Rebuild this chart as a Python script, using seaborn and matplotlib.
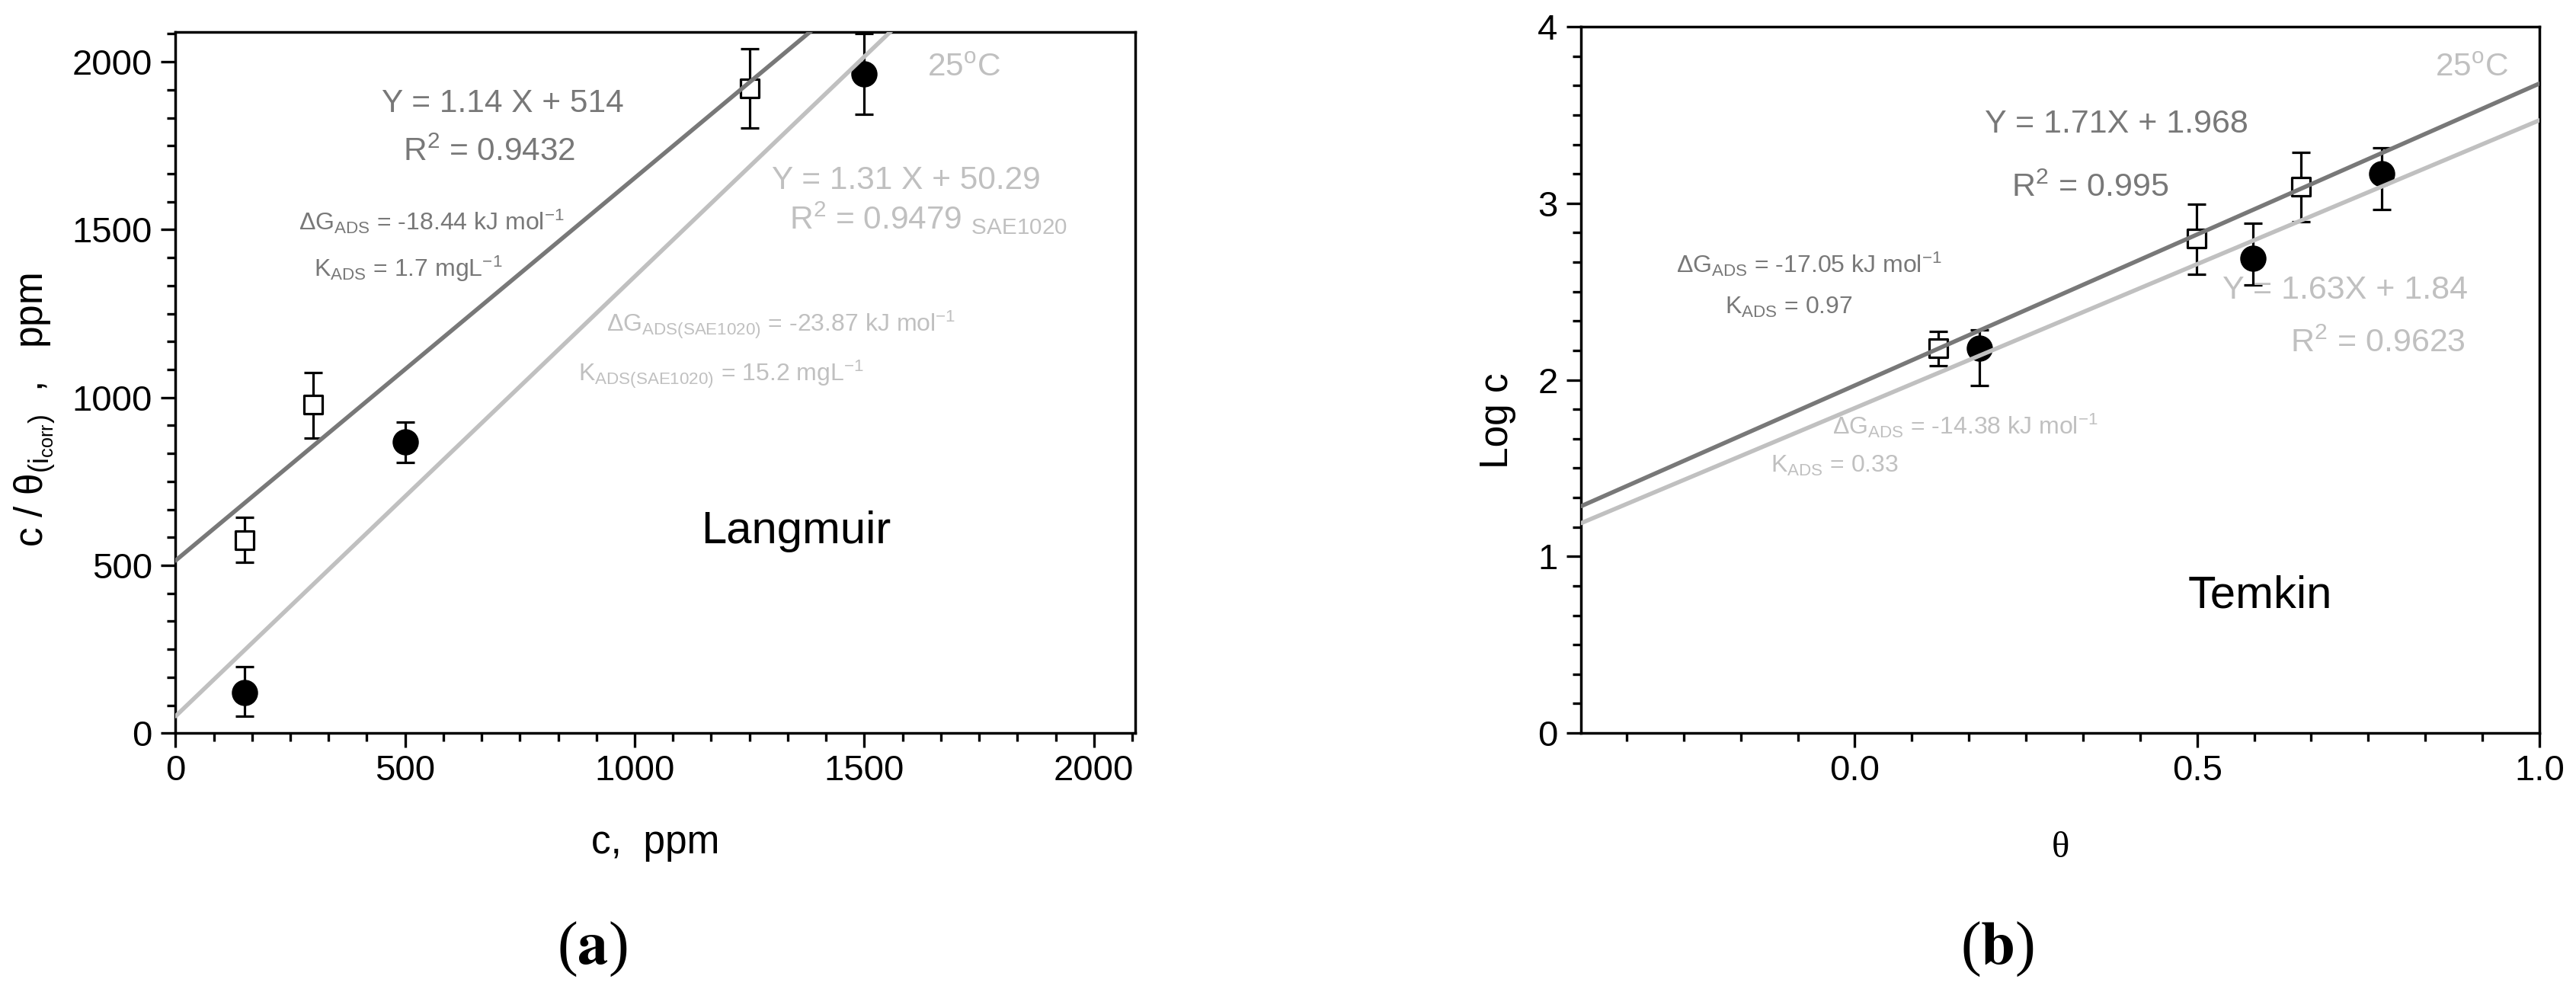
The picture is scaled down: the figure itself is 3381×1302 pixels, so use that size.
import numpy as np
import pandas as pd
import matplotlib
matplotlib.use('Agg')
import matplotlib.pyplot as plt
import seaborn as sns
from matplotlib.ticker import MultipleLocator

# ---------------- data : panel (a) Langmuir ----------------
lang_sq_c = [150, 300, 1250]
lang_sq_y = [575, 980, 1920]
lang_sq_lo = [508, 880, 1803]
lang_sq_hi = [642, 1075, 2039]
lang_ci_c = [150, 500, 1500]
lang_ci_y = [120, 867, 1965]
lang_ci_lo = [51, 807, 1844]
lang_ci_hi = [199, 926, 2085]
lang_fit_dark = (1.14, 514.0)
lang_fit_light = (1.31, 50.29)
lang_xticks = [0, 500, 1000, 1500, 2000]
lang_yticks = [0, 500, 1000, 1500, 2000]

# ---------------- data : panel (b) Temkin ----------------
temk_sq_t = [0.122, 0.499, 0.652]
temk_sq_y = [2.178, 2.800, 3.096]
temk_sq_lo = [2.079, 2.596, 2.894]
temk_sq_hi = [2.273, 2.995, 3.290]
temk_ci_t = [0.182, 0.582, 0.770]
temk_ci_y = [2.178, 2.689, 3.168]
temk_ci_lo = [1.967, 2.539, 2.966]
temk_ci_hi = [2.284, 2.888, 3.313]
temk_fit_dark = (1.71, 1.968)
temk_fit_light = (1.63, 1.84)
temk_xticks = [0.0, 0.5, 1.0]
temk_yticks = [0, 1, 2, 3, 4]

DARK = '#787878'
LIGHT = '#c0c0c0'

sns.set_theme(style='ticks')
plt.rcParams['font.family'] = ['Liberation Sans', 'DejaVu Sans']
plt.rcParams['mathtext.fontset'] = 'custom'
plt.rcParams['mathtext.rm'] = 'Liberation Sans'
plt.rcParams['mathtext.it'] = 'Liberation Sans'
plt.rcParams['mathtext.bf'] = 'Liberation Sans:bold'
plt.rcParams['axes.unicode_minus'] = False

W, H = 3381, 1302
fig = plt.figure(figsize=(W / 100, H / 100), dpi=100)
fig.patch.set_facecolor('white')


def px_axes(x0, x1, ytop, ybot):
    return fig.add_axes([x0 / W, 1 - ybot / H, (x1 - x0) / W, (ybot - ytop) / H])


axA = px_axes(230.3, 1490, 41.5, 962.3)
axB = px_axes(2075, 3333, 35, 962)


def style_axes(ax, major_x, major_y, xlim, ylim, xticks, yticks, xfmt):
    ax.set_facecolor('white')
    ax.set_xlim(*xlim)
    ax.set_ylim(*ylim)
    ax.set_xticks(xticks)
    ax.set_yticks(yticks)
    ax.set_xticklabels([xfmt(v) for v in xticks])
    ax.set_yticklabels([str(v) for v in yticks])
    ax.xaxis.set_minor_locator(MultipleLocator(major_x / 6))
    ax.yaxis.set_minor_locator(MultipleLocator(major_y / 6))
    for s in ax.spines.values():
        s.set_visible(True)
        s.set_linewidth(2.5)
        s.set_color('black')
    ax.tick_params(which='major', direction='out', length=14, width=2.4,
                   labelsize=34, pad=6, top=False, right=False, colors='black')
    ax.tick_params(which='minor', direction='out', length=8, width=2.4,
                   top=False, right=False, colors='black')
    ax.tick_params(axis='y', which='major', pad=8)
    ax.grid(False)


def draw_series(ax, xs, ys, lo, hi, marker, face, ms, xline, fit, lcolor):
    ys = np.asarray(ys, float)
    yerr = [ys - np.asarray(lo, float), np.asarray(hi, float) - ys]
    ax.errorbar(xs, ys, yerr=yerr, fmt='none', ecolor='black', elinewidth=2.3,
                capsize=8.5, capthick=2.3, zorder=3)
    sns.scatterplot(x=xs, y=ys, ax=ax, marker=marker, s=ms ** 2, color=face,
                    edgecolor='black', linewidth=2.3, zorder=4, legend=False)
    xl = np.asarray(xline, float)
    sns.lineplot(x=xl, y=fit[0] * xl + fit[1], ax=ax, color=lcolor, lw=4.0,
                 zorder=5, legend=False)


# ---------------- panel (a) ----------------
style_axes(axA, 500, 500, (0, 2090), (0, 2090), lang_xticks, lang_yticks,
           lambda v: str(v))
draw_series(axA, lang_sq_c, lang_sq_y, lang_sq_lo, lang_sq_hi, 's', 'white', 17,
            [0, 2090], lang_fit_dark, DARK)
draw_series(axA, lang_ci_c, lang_ci_y, lang_ci_lo, lang_ci_hi, 'o', 'black', 22.5,
            [0, 2090], lang_fit_light, LIGHT)


def ptext(ax, x0, x1, ytop, ybot, px, py, s, **kw):
    ax.text((px - x0) / (x1 - x0), (ybot - py) / (ybot - ytop), s,
            transform=ax.transAxes, ha='center', va='baseline', **kw)


A = (230.3, 1490, 41.5, 962.3)
ptext(axA, *A, 660, 147, 'Y = 1.14 X + 514', fontsize=30.5, color=DARK)
ptext(axA, *A, 642, 211, r'R$^{2}$ = 0.9432', fontsize=30.5, color=DARK)
ptext(axA, *A, 566, 302, r'ΔG$_{\mathrm{ADS}}$ = -18.44 kJ mol$^{\mathrm{-1}}$', fontsize=23, color=DARK)
ptext(axA, *A, 536, 363, r'K$_{\mathrm{ADS}}$ = 1.7 mgL$^{\mathrm{-1}}$', fontsize=23, color=DARK)
ptext(axA, *A, 1265, 100, r'25$^{\mathrm{o}}$C', fontsize=30.5, color=LIGHT)
ptext(axA, *A, 1189, 248, 'Y = 1.31 X + 50.29', fontsize=30.5, color=LIGHT)
ptext(axA, *A, 1218, 301, r'R$^{2}$ = 0.9479 $_{\mathrm{SAE1020}}$', fontsize=30.5, color=LIGHT)
ptext(axA, *A, 1025, 435, r'ΔG$_{\mathrm{ADS(SAE1020)}}$ = -23.87 kJ mol$^{\mathrm{-1}}$', fontsize=23, color=LIGHT)
ptext(axA, *A, 946, 500, r'K$_{\mathrm{ADS(SAE1020)}}$ = 15.2 mgL$^{\mathrm{-1}}$', fontsize=23, color=LIGHT)
ptext(axA, *A, 1045, 713, 'Langmuir', fontsize=43, color='black')

xl = axA.set_xlabel('c,  ppm', fontsize=37, color='black')
xl.set_va('baseline')
axA.xaxis.set_label_coords(0.5, (962.3 - 1120) / 920.8)
yl = axA.set_ylabel(r'c / θ$_{(\mathrm{i}_{\mathrm{corr}})}$  ,   ppm', fontsize=37, color='black')
yl.set_rotation_mode('anchor')
yl.set_va('baseline')
yl.set_ha('center')
axA.yaxis.set_label_coords((57 - 230.3) / 1259.7, (962.3 - 538) / 920.8)

# ---------------- panel (b) ----------------
style_axes(axB, 0.5, 1, (-0.4, 1.0), (0, 4), temk_xticks, temk_yticks,
           lambda v: f'{v:.1f}')
draw_series(axB, temk_sq_t, temk_sq_y, temk_sq_lo, temk_sq_hi, 's', 'white', 17,
            [-0.4, 1.0], temk_fit_dark, DARK)
draw_series(axB, temk_ci_t, temk_ci_y, temk_ci_lo, temk_ci_hi, 'o', 'black', 22.5,
            [-0.4, 1.0], temk_fit_light, LIGHT)

B = (2075, 3333, 35, 962)
ptext(axB, *B, 3244, 100, r'25$^{\mathrm{o}}$C', fontsize=30.5, color=LIGHT)
ptext(axB, *B, 2778, 174, 'Y = 1.71X + 1.968', fontsize=31, color=DARK)
ptext(axB, *B, 2743, 258, r'R$^{2}$ = 0.995', fontsize=31, color=DARK)
ptext(axB, *B, 2374, 358, r'ΔG$_{\mathrm{ADS}}$ = -17.05 kJ mol$^{\mathrm{-1}}$', fontsize=23, color=DARK)
ptext(axB, *B, 2348, 412, r'K$_{\mathrm{ADS}}$ = 0.97', fontsize=23, color=DARK)
ptext(axB, *B, 3078, 392, 'Y = 1.63X + 1.84', fontsize=31, color=LIGHT)
ptext(axB, *B, 3121, 462, r'R$^{2}$ = 0.9623', fontsize=31, color=LIGHT)
ptext(axB, *B, 2579, 570, r'ΔG$_{\mathrm{ADS}}$ = -14.38 kJ mol$^{\mathrm{-1}}$', fontsize=23, color=LIGHT)
ptext(axB, *B, 2408, 620, r'K$_{\mathrm{ADS}}$ = 0.33', fontsize=23, color=LIGHT)
ptext(axB, *B, 2966, 797, 'Temkin', fontsize=43, color='black')

xlb = axB.set_xlabel('θ', fontsize=35, color='black', family='Liberation Serif')
xlb.set_va('baseline')
axB.xaxis.set_label_coords(0.5, (962 - 1125) / 927)
ylb = axB.set_ylabel('Log c', fontsize=37, color='black')
ylb.set_rotation_mode('anchor')
ylb.set_va('baseline')
ylb.set_ha('center')
axB.yaxis.set_label_coords((1979 - 2075) / 1258, (962 - 552) / 927)

# panel letters
fig.text(777 / W, 1 - 1265 / H, r'($\mathbf{a}$)', fontsize=58, family='Liberation Serif',
         math_fontfamily='stix', ha='center', va='baseline', color='black')
fig.text(2621 / W, 1 - 1265 / H, r'($\mathbf{b}$)', fontsize=58, family='Liberation Serif',
         math_fontfamily='stix', ha='center', va='baseline', color='black')

fig.savefig('out.png', dpi=100, facecolor='white')
